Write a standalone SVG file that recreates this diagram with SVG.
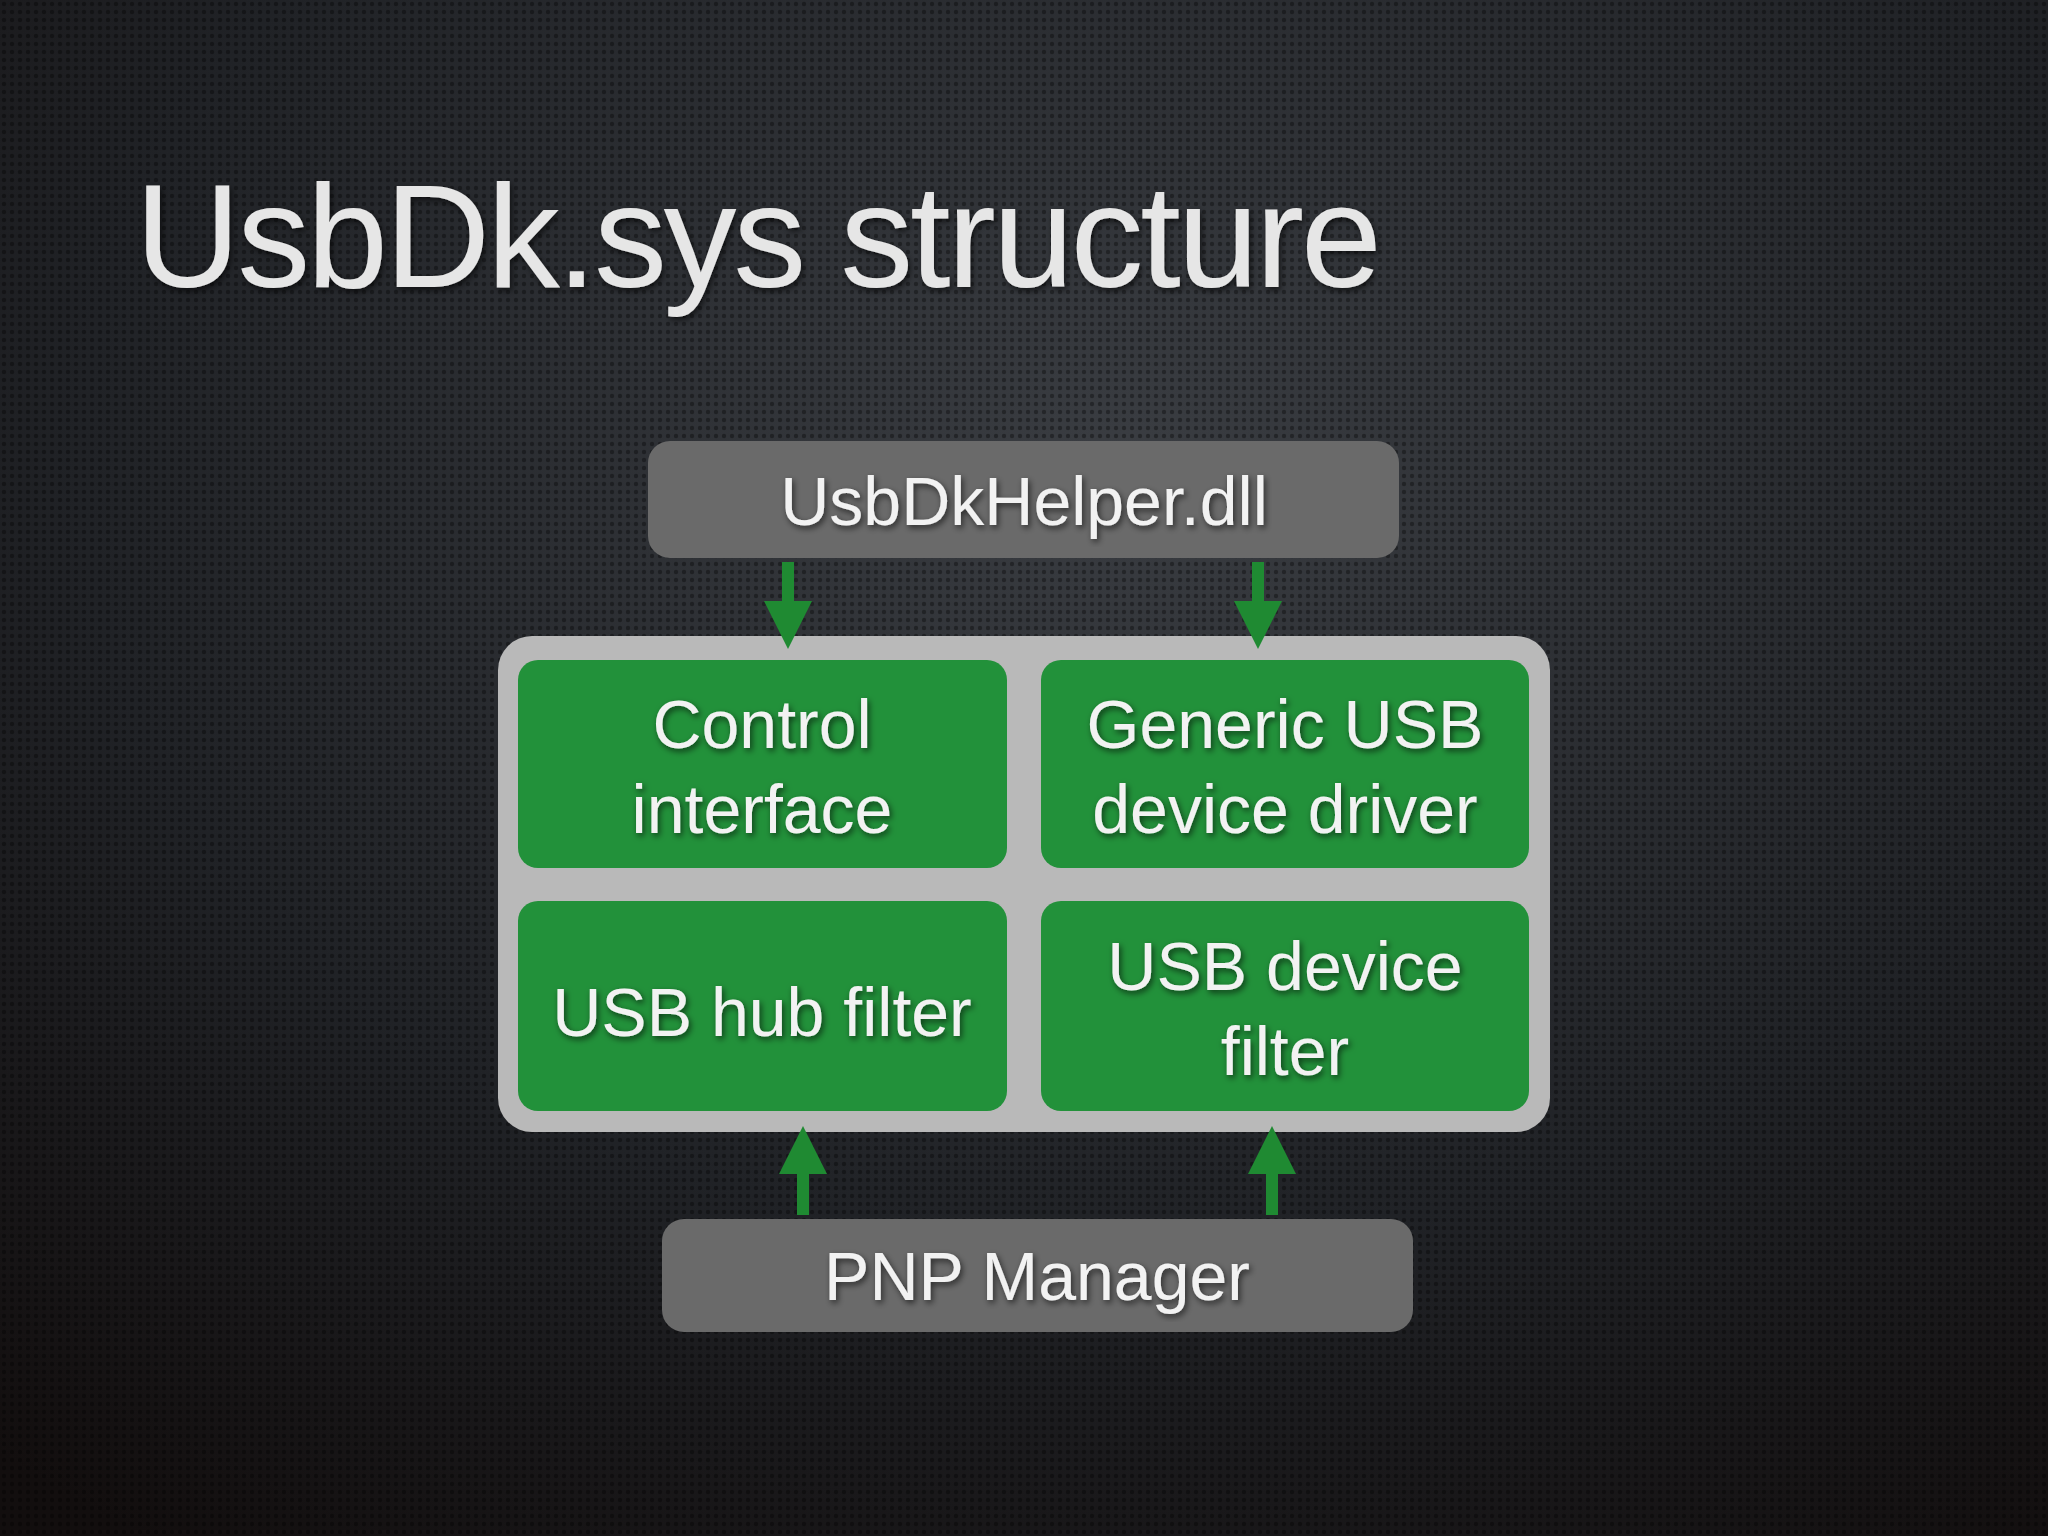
<svg xmlns="http://www.w3.org/2000/svg" width="2048" height="1536" viewBox="0 0 2048 1536">
<defs>
<radialGradient id="bg" cx="0.55" cy="0.3" r="0.85">
<stop offset="0" stop-color="#3a3d42"/><stop offset="0.6" stop-color="#202226"/><stop offset="1" stop-color="#120e0e"/>
</radialGradient>
<pattern id="dots" width="8" height="8" patternUnits="userSpaceOnUse">
<circle cx="4" cy="4" r="2.2" fill="#000" fill-opacity="0.35"/>
</pattern>
<marker id="ah" viewBox="0 0 10 10" refX="5" refY="5" markerWidth="4" markerHeight="4" orient="auto">
<path d="M0,0 L10,5 L0,10 z" fill="#1f8a32"/>
</marker>
<filter id="sh"><feDropShadow dx="2" dy="3" stdDeviation="3" flood-color="#000" flood-opacity="0.6"/></filter>
</defs>
<style>
.t{font-family:"Liberation Sans","Noto Sans",sans-serif;fill:#f2f2f2;text-anchor:middle;font-size:68px;filter:url(#sh)}
.g{fill:#22913a}
.gray{fill:#6a6a6a}
.c{stroke:#1f8a32;stroke-width:12;fill:none;marker-end:url(#ah)}
</style>
<rect width="2048" height="1536" fill="url(#bg)"/>
<rect width="2048" height="1536" fill="url(#dots)"/>
<text x="135" y="287" font-family="Liberation Sans, sans-serif" font-size="146" fill="#e6e6e6" filter="url(#sh)" textLength="1247">UsbDk.sys structure</text>
<g id="helper"><rect x="648" y="441" width="751" height="117" rx="22" class="gray"/><text class="t" x="1024" y="525">UsbDkHelper.dll</text></g>
<g id="container"><rect x="498" y="636" width="1052" height="496" rx="34" fill="#b9b9b9"/></g>
<g id="control"><rect x="518" y="660" width="489" height="208" rx="20" class="g"/><text class="t" x="762" y="748">Control</text><text class="t" x="762" y="833">interface</text></g>
<g id="generic"><rect x="1041" y="660" width="488" height="208" rx="20" class="g"/><text class="t" x="1285" y="748">Generic USB</text><text class="t" x="1285" y="833">device driver</text></g>
<g id="hub"><rect x="518" y="901" width="489" height="210" rx="20" class="g"/><text class="t" x="762" y="1036">USB hub filter</text></g>
<g id="devfilter"><rect x="1041" y="901" width="488" height="210" rx="20" class="g"/><text class="t" x="1285" y="990">USB device</text><text class="t" x="1285" y="1075">filter</text></g>
<g id="pnp"><rect x="662" y="1219" width="751" height="113" rx="22" class="gray"/><text class="t" x="1037" y="1300">PNP Manager</text></g>
<g id="connectors">
<line class="c" x1="788" y1="562" x2="788" y2="625"/>
<line class="c" x1="1258" y1="562" x2="1258" y2="625"/>
<line class="c" x1="803" y1="1215" x2="803" y2="1150"/>
<line class="c" x1="1272" y1="1215" x2="1272" y2="1150"/>
</g>
</svg>
